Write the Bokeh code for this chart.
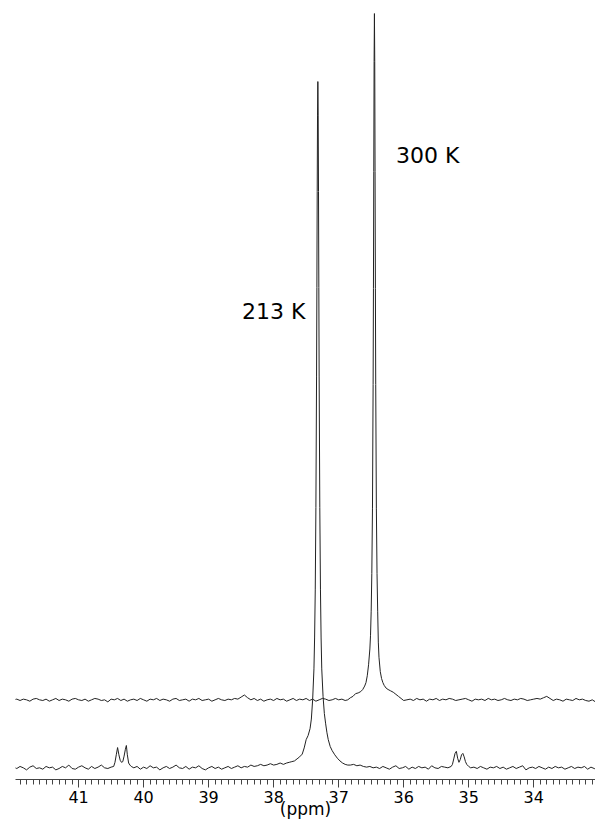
from bokeh.plotting import figure
from bokeh.models import Range1d, SingleIntervalTicker, ColumnDataSource
from bokeh.core.properties import value
from bokeh.embed import file_html
from bokeh.resources import INLINE

# ---------------- data (ppm, intensity; 213 K peak = 100) ----------------
# 213 K trace
n213_a = [0.2, 0.0, 0.3, 0.1, -0.2, 0.2, 0.4, 0.0, 0.1, -0.1,
          0.3, 0.1, 0.2, -0.2, 0.0, 0.3, 0.1, 0.5, 0.0, -0.1,
          0.2, 0.4, 0.1, -0.1, 0.3, 0.0, 0.2, 0.5, 0.1, 0.0]          # 42.00 .. 40.55
sat213_left_ppm = [40.50, 40.46, 40.44, 40.42, 40.40, 40.38, 40.36, 40.34,
                   40.32, 40.30, 40.28, 40.265, 40.25, 40.23, 40.21, 40.19]
sat213_left_int = [0.2, 0.3, 0.9, 2.0, 3.05, 2.0, 1.2, 0.9,
                   1.0, 1.8, 2.8, 3.35, 2.0, 0.8, 0.5, 0.3]
n213_b = [0.1, 0.3, -0.1, 0.2, 0.0, 0.4, 0.1, 0.2, -0.2, 0.1,
          0.3, 0.0, 0.2, 0.5, 0.1, 0.0, 0.3, -0.1, 0.2, 0.1,
          0.4, 0.0, -0.2, 0.1, 0.3, 0.0, 0.2, -0.1, 0.1, 0.3,
          0.0, 0.2, 0.4, 0.1, 0.3, 0.2, 0.5, 0.3, 0.4, 0.6,
          0.4, 0.5, 0.7, 0.5, 0.6, 0.8, 0.6]                           # 40.15 .. 37.85
pk213_ppm = [37.80, 37.76, 37.72, 37.68, 37.64, 37.60, 37.56, 37.53, 37.50, 37.47,
             37.44, 37.42, 37.40, 37.38, 37.37, 37.36, 37.35, 37.34, 37.335, 37.33,
             37.325, 37.32, 37.315, 37.31, 37.305, 37.30, 37.29, 37.28, 37.27, 37.26,
             37.24, 37.22, 37.20, 37.18, 37.16, 37.13, 37.10, 37.06, 37.02, 36.98,
             36.94, 36.90, 36.86]
pk213_int = [0.8, 0.9, 1.0, 1.1, 1.4, 1.7, 2.1, 3.0, 4.2, 4.8,
             5.8, 7.2, 10.0, 14.5, 19, 26, 38, 57, 70, 84,
             95, 100, 95, 84, 70, 57, 38, 26, 19, 14.5,
             10.5, 8.0, 6.5, 5.2, 4.2, 3.2, 2.6, 2.0, 1.5, 1.1,
             0.8, 0.6, 0.5]
n213_c = [0.5, 0.6, 0.4, 0.5, 0.3, 0.2, 0.3, 0.1, 0.2, 0.0,
          0.3, 0.1, -0.1, 0.2, 0.4, 0.0, 0.1, 0.3, -0.1, 0.2,
          0.0, 0.3, 0.1, 0.2, -0.1, 0.4, 0.1, 0.0, 0.3, 0.2,
          0.1]                                                         # 36.82 .. 35.32
sat213_right_ppm = [35.27, 35.25, 35.23, 35.21, 35.19, 35.17, 35.15, 35.13,
                    35.11, 35.09, 35.07, 35.05, 35.03, 35.00, 34.97]
sat213_right_int = [0.3, 0.6, 1.4, 2.2, 2.5, 1.5, 0.9, 1.3,
                    2.0, 2.2, 1.7, 1.0, 0.6, 0.3, 0.1]
n213_d = [0.2, 0.0, 0.3, 0.1, -0.1, 0.2, 0.1, 0.3, 0.0, 0.2,
          -0.1, 0.1, 0.3, 0.0, 0.2, 0.4, -0.2, 0.1, 0.2, 0.0,
          0.3, 0.1, -0.1, 0.2, 0.0, 0.3, 0.1, 0.2, -0.1, 0.1,
          0.3, 0.0, 0.2, 0.1, 0.3, -0.1, 0.2, 0.0, -0.2]               # 34.92 .. 33.02

# 300 K trace
n300_a = [0.1, 0.2, 0.0, 0.2, 0.1, -0.1, 0.2, 0.3, 0.1, 0.0,
          0.2, -0.1, 0.1, 0.3, 0.0, 0.2, 0.1, -0.1, 0.2, 0.3,
          0.1, 0.0, 0.2, -0.1, 0.1, 0.3, 0.2, 0.0, 0.1, -0.2,
          0.2, 0.1, 0.3, 0.0, 0.2, -0.1, 0.1, 0.2, 0.0, 0.3,
          0.1, -0.1, 0.2, 0.1, 0.3, 0.0, 0.2, 0.1, -0.1, 0.2,
          0.3, 0.0, 0.1, 0.2, -0.1, 0.2, 0.1, 0.3, 0.0, 0.1,
          0.2, -0.1, 0.1, 0.3, 0.1, 0.0, 0.2, 0.1, 0.3, 0.2,
          0.5, 0.8, 0.4, 0.1, 0.3, 0.0, 0.2, -0.1, 0.1, 0.2,
          0.0, 0.3, 0.1, 0.2, -0.1, 0.1, 0.3, 0.0, 0.2, 0.1,
          0.3, 0.0, 0.2, -0.1, 0.1, 0.3, 0.2, 0.0, 0.1, 0.3,
          0.1, 0.2, 0.0]                                               # 42.00 .. 36.90
pk300_ppm = [36.86, 36.82, 36.78, 36.74, 36.70, 36.66, 36.63, 36.60, 36.58, 36.56,
             36.54, 36.52, 36.51, 36.50, 36.49, 36.48, 36.47, 36.465, 36.46, 36.455,
             36.45, 36.445, 36.44, 36.435, 36.43, 36.42, 36.41, 36.40, 36.39, 36.38,
             36.36, 36.34, 36.32, 36.30, 36.27, 36.24, 36.20, 36.16, 36.12, 36.08,
             36.04, 36.00]
pk300_int = [0.1, 0.4, 0.6, 1.0, 1.1, 1.3, 1.6, 2.1, 2.6, 3.6,
             5.2, 7.5, 9.5, 13, 18.5, 28, 46, 60, 77, 93,
             100, 93, 77, 60, 46, 28, 18.5, 13, 8.5, 6.3,
             4.2, 3.2, 2.6, 2.2, 1.8, 1.6, 1.4, 1.2, 0.9, 0.6,
             0.3, 0.0]
n300_b = [0.1, 0.2, 0.0, 0.3, 0.1, 0.2, -0.1, 0.2, 0.1, 0.3,
          0.0, 0.2, 0.1, 0.3, 0.2, 0.0, 0.1, 0.2, 0.3, 0.1,
          -0.1, 0.2, 0.1, 0.2, 0.0, 0.3, 0.1, 0.2, 0.0, 0.1,
          0.3, 0.1, 0.0, 0.2, 0.1, 0.3, 0.2, 0.0, 0.1, 0.2,
          0.3, 0.2, 0.4, 0.6, 0.3, 0.0, 0.2, 0.1, -0.1, 0.2,
          0.1, 0.0, 0.3, 0.1, 0.2, 0.0, -0.1, 0.1, -0.2]               # 35.95 .. 33.05

offset_300 = 9.9   # vertical stacking of the 300 K trace

label_text = ["213 K", "300 K"]
label_ppm = [38.0, 35.63]
label_int = [66.5, 89.2]

# ---------------- assemble ----------------
def seg(start, vals, step=-0.05):
    return [round(start + step * i, 4) for i in range(len(vals))], list(vals)

def concat(*parts):
    xs, ys = [], []
    for px, py in parts:
        xs += list(px)
        ys += list(py)
    return xs, ys

x213, y213 = concat(seg(42.00, n213_a), (sat213_left_ppm, sat213_left_int),
                    seg(40.15, n213_b), (pk213_ppm, pk213_int),
                    seg(36.82, n213_c), (sat213_right_ppm, sat213_right_int),
                    seg(34.92, n213_d))
x300, y300 = concat(seg(42.00, n300_a), (pk300_ppm, pk300_int), seg(35.95, n300_b))
y300 = [v + offset_300 for v in y300]

p = figure(width=595, height=824, x_range=Range1d(41.97, 33.05),
           y_range=Range1d(-1.6, 111.8), output_backend="svg",
           toolbar_location=None, y_axis_location=None,
           min_border_left=15, min_border_right=0, min_border_top=0,
           min_border_bottom=45)
p.outline_line_color = None
p.grid.visible = False
p.background_fill_color = "white"
p.border_fill_color = "white"

p.line(x300, y300, line_color="#222222", line_width=1)
p.line(x213, y213, line_color="#222222", line_width=1)

src = ColumnDataSource(dict(x=label_ppm, y=label_int, t=label_text))
p.text(x="x", y="y", text="t", source=src, text_font=value("DejaVu Sans"),
       text_font_size="22px", text_align="center", text_baseline="middle",
       text_color="black")

ax = p.xaxis[0]
ax.ticker = SingleIntervalTicker(interval=1, num_minor_ticks=10)
ax.axis_line_color = "#444444"
ax.major_tick_line_color = "#444444"
ax.minor_tick_line_color = "#444444"
ax.major_tick_in = 0
ax.major_tick_out = 8
ax.minor_tick_in = 0
ax.minor_tick_out = 5
ax.major_label_text_font = "DejaVu Sans"
ax.major_label_text_font_size = "16px"
ax.major_label_text_color = "black"
ax.major_label_standoff = 3
ax.axis_label = "(ppm)"
ax.axis_label_text_font = "DejaVu Sans"
ax.axis_label_text_font_size = "17px"
ax.axis_label_text_font_style = "normal"
ax.axis_label_text_color = "black"
ax.axis_label_standoff = -7

open("out.html", "w").write(file_html(p, INLINE))
